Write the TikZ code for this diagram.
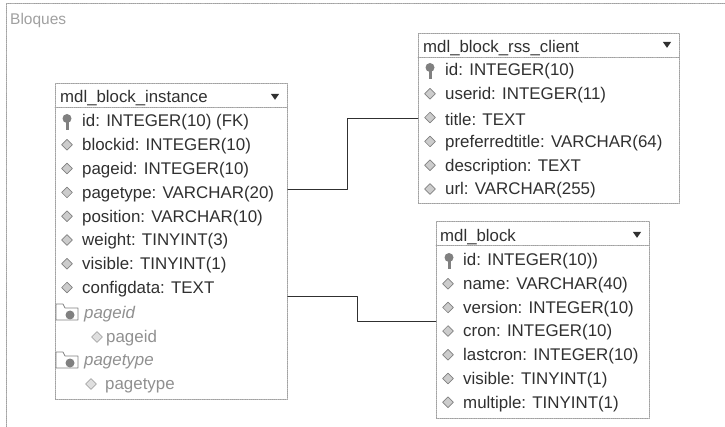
\documentclass[tikz,border=0pt]{standalone}
\usepackage{fontspec}
\setmainfont{Liberation Sans}
\usetikzlibrary{shapes.geometric}
\definecolor{ink}{HTML}{303030}
\definecolor{faded}{HTML}{909090}
\definecolor{frame}{HTML}{A0A0A0}
\begin{document}
\begin{tikzpicture}[
  x=1pt, y=-1pt,
  line join=round, line cap=round,
  tablebox/.style={draw=frame, densely dotted, line width=0.9pt, anchor=north west, inner sep=0pt},
  rowtext/.style={anchor=west, inner sep=0pt, yshift=-1.5pt, text=ink, font=\fontsize{16.9}{18}\selectfont},
  headtext/.style={rowtext, font=\fontsize{16.8}{18}\selectfont},
  indexname/.style={rowtext, text=faded, font=\itshape\fontsize{16.9}{18}\selectfont},
  indexcol/.style={rowtext, text=faded},
  fieldmark/.style={diamond, draw=gray, fill=gray!40, line width=0.7pt, inner sep=0pt, minimum size=11pt},
  fademark/.style={fieldmark, draw=gray!70, fill=gray!25},
  menumark/.style={isosceles triangle, isosceles triangle apex angle=70, shape border rotate=-90, fill=ink, inner sep=0pt, minimum size=6pt},
  link/.style={line width=0.9pt, draw=ink},
  keyicon/.pic={
    \fill[gray] (0,-3.5) circle (4.5);
    \fill[gray] (-1.5,-1) rectangle (1.5,8);
  },
  foldericon/.pic={
    \draw[gray, fill=white, line width=0.8pt] (-11,8) -- (-11,-8) -- (-4,-8) -- (-2,-4) -- (11,-4) -- (11,8) -- cycle;
    \fill[gray] (3,3) circle (4.5);
  },
]
\useasboundingbox (0,0) rectangle (725,427);

% the page frame
\draw[frame, densely dotted, line width=0.9pt] (725,3) -- (6,3) -- (6,427);
\node[anchor=west, inner sep=0pt, text=frame, font=\fontsize{15.5}{18}\selectfont] (pagetitle) at (10,20) {Bloques};

% the three tables
\node[tablebox, minimum width=232pt, minimum height=316pt] (instbox) at (55,83) {};
\node[tablebox, minimum width=261pt, minimum height=170pt] (rssbox) at (418,33) {};
\node[tablebox, minimum width=213pt, minimum height=197pt] (blockbox) at (436,221) {};
\draw[frame, densely dotted, line width=0.9pt] (55,107) -- (287,107);
\draw[frame, densely dotted, line width=0.9pt] (418,57) -- (679,57);
\draw[frame, densely dotted, line width=0.9pt] (436,245) -- (649,245);

\node[headtext] (insthead) at (60,97) {mdl\_block\_instance};
\node[headtext] (rsshead) at (423,47) {mdl\_block\_rss\_client};
\node[headtext] (blockhead) at (440,236) {mdl\_block};
\node[menumark] (instmenu) at (275,96) {};
\node[menumark] (rssmenu) at (667,44) {};
\node[menumark] (blockmenu) at (637,234) {};

\foreach \txt [count=\i] in {id: INTEGER(10) (FK), blockid: INTEGER(10), pageid: INTEGER(10),
    pagetype: VARCHAR(20), position: VARCHAR(10), weight: TINYINT(3),
    visible: TINYINT(1), configdata: TEXT} {
  \node[rowtext] (inst\i) at (82,121+23.8*\i-23.8) {\txt};
  \ifnum\i>1 \node[fieldmark] (instmark\i) at (67,121+23.8*\i-23.8) {}; \fi
}
\foreach \txt [count=\i] in {id: INTEGER(10), userid: INTEGER(11), title: TEXT,
    preferredtitle: VARCHAR(64), description: TEXT, url: VARCHAR(255)} {
  \node[rowtext] (rss\i) at (445,70+23.8*\i-23.8) {\txt};
  \ifnum\i>1 \node[fieldmark] (rssmark\i) at (430,70+23.8*\i-23.8) {}; \fi
}
\foreach \txt [count=\i] in {id: INTEGER(10)), name: VARCHAR(40), version: INTEGER(10),
    cron: INTEGER(10), lastcron: INTEGER(10), visible: TINYINT(1), multiple: TINYINT(1)} {
  \node[rowtext] (block\i) at (463,260+23.7*\i-23.7) {\txt};
  \ifnum\i>1 \node[fieldmark] (blockmark\i) at (448,260+23.7*\i-23.7) {}; \fi
}
\pic at (67,122) {keyicon};
\pic at (430,71) {keyicon};
\pic at (449,261) {keyicon};

% the two indexes
\pic at (67,312) {foldericon};
\pic at (67,360) {foldericon};
\node[indexname] (pageidindex) at (84,313) {pageid};
\node[indexname] (pagetypeindex) at (84,360) {pagetype};
\node[fademark] (pageidmark) at (97,337) {};
\node[fademark] (pagetypemark) at (91,384) {};
\node[indexcol] (pageidcol) at (106,337) {pageid};
\node[indexcol] (pagetypecol) at (105,384) {pagetype};

% the links
\coordinate (rsslinkstart) at (instbox.east |- 0,189);
\coordinate (rsslinkknee) at (347,118);
\coordinate (blocklinkstart) at (instbox.east |- 0,296);
\coordinate (blocklinkknee) at (357,321);
\draw[link] (rsslinkstart) -| (rsslinkknee) -- (rssbox.west |- rsslinkknee);
\draw[link] (blocklinkstart) -| (blocklinkknee) -- (blockbox.west |- blocklinkknee);
\end{tikzpicture}
\end{document}
